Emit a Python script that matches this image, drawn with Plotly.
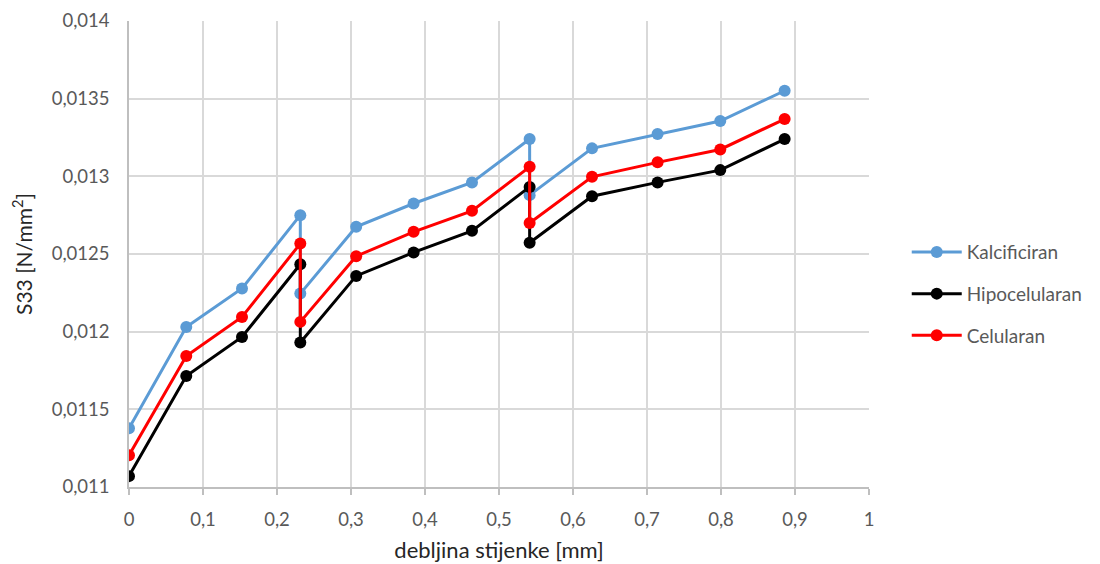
import plotly.graph_objects as go

x_vals = [0, 0.0774, 0.1527, 0.2315, 0.2315, 0.307, 0.3846, 0.4635, 0.5414, 0.5414, 0.6257, 0.7143, 0.799, 0.886]
kalcificiran = [0.011378, 0.01203, 0.012278, 0.01275, 0.012245, 0.012675, 0.012825, 0.012961, 0.01324, 0.012879, 0.01318, 0.013272, 0.013356, 0.013551]
hipocelularan = [0.01107, 0.011715, 0.011966, 0.012434, 0.01193, 0.012359, 0.01251, 0.012649, 0.012932, 0.012572, 0.012872, 0.012961, 0.01304, 0.01324]
celularan = [0.011204, 0.011843, 0.012095, 0.012567, 0.012063, 0.012486, 0.012643, 0.012778, 0.013061, 0.0127, 0.012997, 0.01309, 0.013173, 0.013369]

series_names = ["Kalcificiran", "Hipocelularan", "Celularan"]
series_colors = ["#5b9bd5", "#000000", "#ff0000"]

x_ticks = [0, 0.1, 0.2, 0.3, 0.4, 0.5, 0.6, 0.7, 0.8, 0.9, 1]
x_ticktext = ["0", "0,1", "0,2", "0,3", "0,4", "0,5", "0,6", "0,7", "0,8", "0,9", "1"]
y_ticks = [0.011, 0.0115, 0.012, 0.0125, 0.013, 0.0135, 0.014]
y_ticktext = ["0,011", "0,0115", "0,012", "0,0125", "0,013", "0,0135", "0,014"]

FONT = "Lato, 'Open Sans', sans-serif"

fig = go.Figure()
for name, ys, col in zip(series_names, [kalcificiran, hipocelularan, celularan], series_colors):
    fig.add_trace(go.Scatter(
        x=x_vals, y=ys, name=name, mode="lines+markers",
        line=dict(color=col, width=3),
        marker=dict(color=col, size=12),
        legendgroup=name,
    ))

fig.update_layout(
    width=1092, height=556,
    margin=dict(l=121, r=231, t=13, b=77),
    paper_bgcolor="white", plot_bgcolor="white",
    font=dict(family=FONT, size=16, color="#595959"),
    legend=dict(x=1.051, y=0.414, xanchor="left", yanchor="middle",
                font=dict(size=19, color="#595959"), tracegroupgap=14,
                itemwidth=50),
    showlegend=True,
)
fig.update_xaxes(
    range=[0, 1], tickvals=x_ticks, ticktext=x_ticktext,
    showgrid=True, gridcolor="#d9d9d9", gridwidth=1.5,
    showline=True, linecolor="#bfbfbf", linewidth=1.5,
    ticks="outside", ticklen=6, tickcolor="#bfbfbf", tickwidth=1.5,
    ticklabelstandoff=9, automargin=False,
    zeroline=False,
    title=dict(text="debljina stijenke [mm]", font=dict(size=22, color="#262626"), standoff=14),
    tickfont=dict(size=18.5, color="#595959"),
)
fig.update_yaxes(
    range=[0.011, 0.014], tickvals=y_ticks, ticktext=y_ticktext,
    showgrid=True, gridcolor="#d9d9d9", gridwidth=1.5,
    showline=True, linecolor="#bfbfbf", linewidth=1.5,
    ticks="", ticklabelstandoff=14, automargin=False,
    zeroline=False,
    title=dict(text="S33 [N/mm<sup>2</sup>]", font=dict(size=21, color="#262626"), standoff=20),
    tickfont=dict(size=18.5, color="#595959"),
)

fig.write_html("out.html")
